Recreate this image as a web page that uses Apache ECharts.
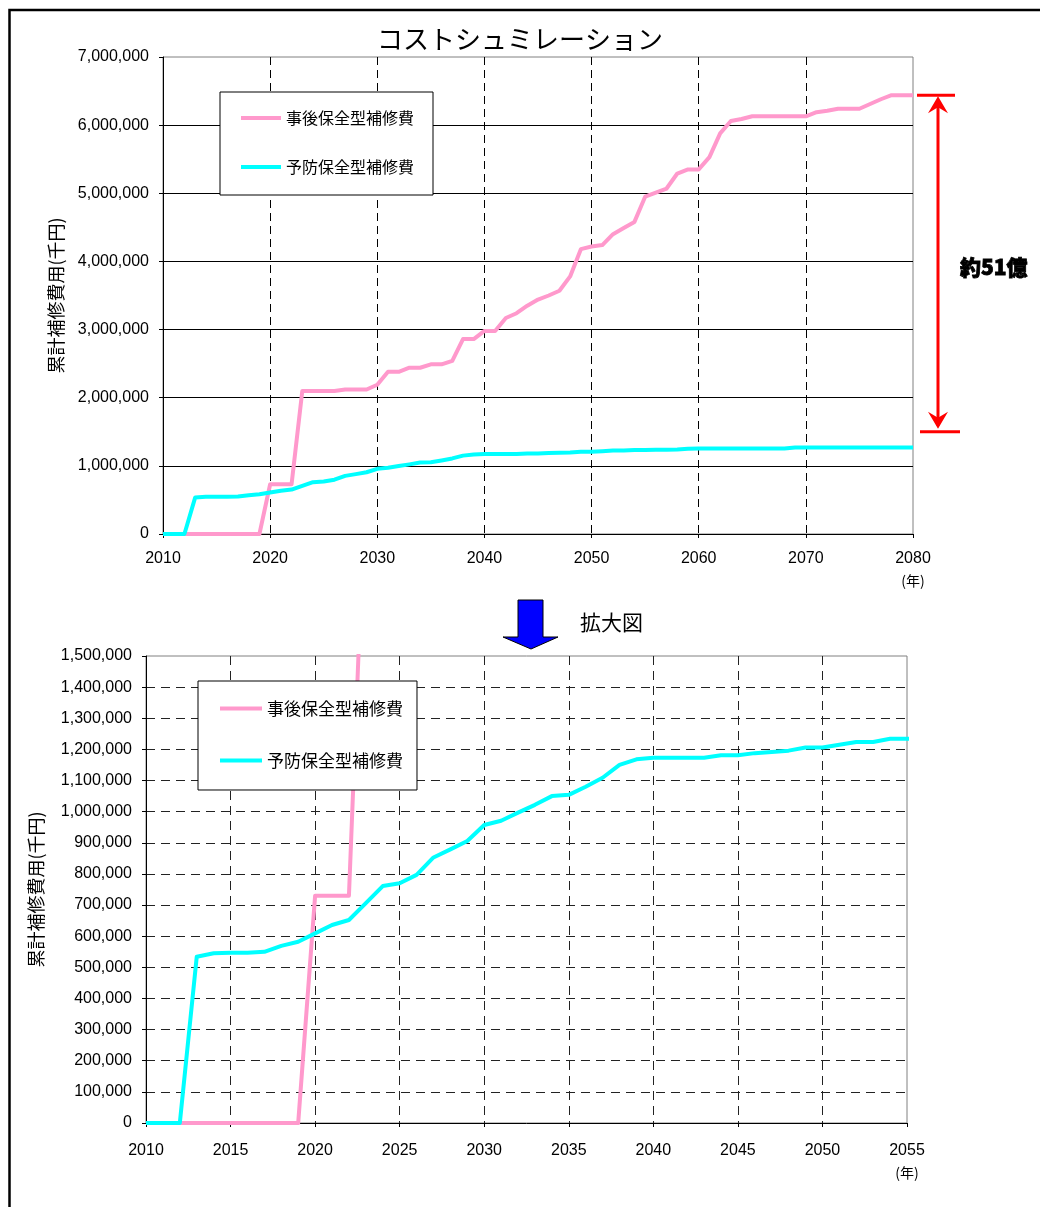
<!DOCTYPE html>
<html>
<head>
<meta charset="utf-8">
<script src="https://cdn.jsdelivr.net/npm/echarts@6/dist/echarts.min.js"></script>
<style>
  html, body { margin: 0; padding: 0; background: #fff; }
  #chart { width: 1040px; height: 1207px; }
</style>
</head>
<body>
<div id="chart"></div>
<script>
// 年度
const years = [
  2010, 2011, 2012, 2013, 2014, 2015, 2016, 2017, 2018, 2019,
  2020, 2021, 2022, 2023, 2024, 2025, 2026, 2027, 2028, 2029,
  2030, 2031, 2032, 2033, 2034, 2035, 2036, 2037, 2038, 2039,
  2040, 2041, 2042, 2043, 2044, 2045, 2046, 2047, 2048, 2049,
  2050, 2051, 2052, 2053, 2054, 2055, 2056, 2057, 2058, 2059,
  2060, 2061, 2062, 2063, 2064, 2065, 2066, 2067, 2068, 2069,
  2070, 2071, 2072, 2073, 2074, 2075, 2076, 2077, 2078, 2079,
  2080
];

// 事後保全型補修費 累計（千円）
const correctiveCost = [
  0, 0, 0, 0, 0, 0, 0, 0, 0, 0,
  730000, 730000, 730000, 2100000, 2100000, 2100000, 2100000, 2120000, 2120000, 2120000,
  2190000, 2380000, 2380000, 2440000, 2440000, 2490000, 2490000, 2540000, 2860000, 2860000,
  2980000, 2980000, 3170000, 3240000, 3350000, 3440000, 3500000, 3570000, 3780000, 4180000,
  4220000, 4240000, 4400000, 4490000, 4580000, 4950000, 5010000, 5070000, 5290000, 5350000,
  5350000, 5530000, 5880000, 6060000, 6090000, 6130000, 6130000, 6130000, 6130000, 6130000,
  6130000, 6190000, 6210000, 6240000, 6240000, 6240000, 6310000, 6380000, 6440000, 6440000,
  6440000
];

// 予防保全型補修費 累計（千円）
const preventiveCost = [
  0, 0, 0, 534000, 545000, 547000, 547000, 550000, 569000, 582000,
  609000, 636000, 652000, 706000, 761000, 770000, 797000, 853000, 879000, 906000,
  957000, 971000, 997000, 1022000, 1050000, 1054000, 1080000, 1109000, 1150000, 1168000,
  1173000, 1173000, 1173000, 1173000, 1181000, 1181000, 1188000, 1192000, 1196000, 1206000,
  1206000, 1215000, 1224000, 1224000, 1234000, 1234000, 1236000, 1238000, 1240000, 1250000,
  1255000, 1255000, 1255000, 1255000, 1255000, 1255000, 1255000, 1255000, 1255000, 1270000,
  1270000, 1270000, 1270000, 1270000, 1270000, 1270000, 1270000, 1270000, 1270000, 1270000,
  1270000
];

const seriesNames = ['事後保全型補修費', '予防保全型補修費'];
const seriesColors = ['#FF99CC', '#00FFFF'];

// 軸の範囲（全体図・拡大図）
const overviewX = { min: 2010, max: 2080, interval: 10 };
const overviewY = { min: 0, max: 7000000, interval: 1000000 };
const zoomX = { min: 2010, max: 2055, interval: 5 };
const zoomY = { min: 0, max: 1500000, interval: 100000 };

// 差額を示す矢印の範囲（千円）
const gapRange = [1500000, 6440000];

const titleText = 'コストシュミレーション';
const yAxisName = '累計補修費用(千円)';
const yearUnit = '(年)';
const zoomCaption = '拡大図';
const gapLabel = '約51億';

const NUM_FONT = "'Liberation Sans', 'Noto Sans CJK JP', sans-serif";
const JP_FONT = "'Noto Sans CJK JP', 'Noto Sans', sans-serif";

const pairs = (vals) => years.map((y, i) => [y, vals[i]]);
const fmtNum = (v) => Number(v).toLocaleString('en-US');

function xAxisFor(gridIndex, range, dashed, margin) {
  return {
    type: 'value', gridIndex,
    min: range.min, max: range.max, interval: range.interval,
    axisLine: { show: true, onZero: false, lineStyle: { color: '#000', width: 1 } },
    axisTick: { show: true, length: 4, lineStyle: { color: '#000' } },
    axisLabel: {
      margin, color: '#000', fontFamily: NUM_FONT, fontSize: 16, lineHeight: 22,
      formatter: (v) => v === range.max ? v + '\n{u|' + yearUnit + '}' : String(v),
      rich: { u: { fontFamily: JP_FONT, fontSize: 14, lineHeight: 22, color: '#000' } }
    },
    splitLine: {
      show: true, showMinLine: false, showMaxLine: false,
      lineStyle: { color: dashed.color, width: 1, type: dashed.dash }
    }
  };
}

function yAxisFor(gridIndex, range, split, nameGap) {
  return {
    type: 'value', gridIndex,
    min: range.min, max: range.max, interval: range.interval,
    name: yAxisName, nameLocation: 'middle', nameGap,
    nameTextStyle: { fontFamily: JP_FONT, fontSize: 18, color: '#000' },
    axisLine: { show: true, lineStyle: { color: '#000', width: 1 } },
    axisTick: { show: true, length: 4, lineStyle: { color: '#000' } },
    axisLabel: { margin: 14, color: '#000', fontFamily: NUM_FONT, fontSize: 16, formatter: fmtNum },
    splitLine: {
      show: true, showMinLine: false, showMaxLine: false,
      lineStyle: { color: split.color, width: 1, type: split.dash }
    }
  };
}

function lineSeries(name, color, vals, gridIdx) {
  return {
    type: 'line', name,
    xAxisIndex: gridIdx, yAxisIndex: gridIdx,
    data: pairs(vals),
    symbol: 'none', smooth: false, clip: true,
    lineStyle: { color, width: 4, join: 'round' },
    itemStyle: { color },
    z: 3
  };
}

function legendFor(left, top, padding, fontSize, itemGap, itemWidth) {
  return {
    orient: 'vertical', left, top, padding, itemGap,
    itemWidth, itemHeight: 4, icon: 'rect',
    data: seriesNames,
    backgroundColor: '#fff', borderColor: '#000', borderWidth: 1,
    textStyle: { fontFamily: JP_FONT, fontSize, color: '#000' },
    selectedMode: false
  };
}

const chart = echarts.init(document.getElementById('chart'), null, { renderer: 'canvas' });

chart.setOption({
  backgroundColor: '#fff',
  animation: false,
  grid: [
    { left: 163, top: 57, width: 750, height: 477, show: true, borderColor: '#808080', borderWidth: 1, backgroundColor: '#fff', containLabel: false },
    { left: 146, top: 656, width: 761, height: 467, show: true, borderColor: '#808080', borderWidth: 1, backgroundColor: '#fff', containLabel: false }
  ],
  xAxis: [
    xAxisFor(0, overviewX, { color: '#000', dash: [8, 5] }, 14),
    xAxisFor(1, zoomX, { color: '#222', dash: [9, 6] }, 17)
  ],
  yAxis: [
    yAxisFor(0, overviewY, { color: '#000', dash: 'solid' }, 98),
    yAxisFor(1, zoomY, { color: '#222', dash: [9, 6] }, 101)
  ],
  legend: [
    legendFor(220, 92, [18, 19, 20, 21], 16, 33, 40),
    legendFor(198, 681, [19, 14, 21, 22], 17, 35, 42)
  ],
  series: [
    lineSeries(seriesNames[0], seriesColors[0], correctiveCost, 0),
    lineSeries(seriesNames[1], seriesColors[1], preventiveCost, 0),
    lineSeries(seriesNames[0], seriesColors[0], correctiveCost, 1),
    lineSeries(seriesNames[1], seriesColors[1], preventiveCost, 1)
  ]
});

// 注記（タイトル・差額矢印・拡大図の矢印・外枠）
const gridRight = 163 + 750;
const yTop = chart.convertToPixel({ gridIndex: 0 }, [overviewX.max, gapRange[1]])[1];
const yBot = chart.convertToPixel({ gridIndex: 0 }, [overviewX.max, gapRange[0]])[1];
const ax = gridRight + 25;
const red = '#FF0000';

chart.setOption({
  graphic: [
    { type: 'rect', silent: true, shape: { x: 9.5, y: 10, width: 1200, height: 1400 },
      style: { fill: 'none', stroke: '#000', lineWidth: 2.5 }, z: 100 },
    { type: 'text', left: 'center', top: 26, silent: true,
      style: { text: titleText, fontFamily: JP_FONT, fontSize: 26, fill: '#000' }, z: 100 },
    // 差額矢印
    { type: 'line', silent: true, shape: { x1: gridRight + 4, y1: yTop, x2: gridRight + 42, y2: yTop },
      style: { stroke: red, lineWidth: 3 }, z: 100 },
    { type: 'line', silent: true, shape: { x1: gridRight + 7, y1: yBot, x2: gridRight + 47, y2: yBot },
      style: { stroke: red, lineWidth: 3 }, z: 100 },
    { type: 'line', silent: true, shape: { x1: ax, y1: yTop + 6, x2: ax, y2: yBot - 6 },
      style: { stroke: red, lineWidth: 3 }, z: 100 },
    { type: 'polygon', silent: true,
      shape: { points: [[ax, yTop + 1], [ax - 10, yTop + 18], [ax, yTop + 12], [ax + 10, yTop + 18]] },
      style: { fill: red }, z: 100 },
    { type: 'polygon', silent: true,
      shape: { points: [[ax, yBot - 3], [ax - 10, yBot - 20], [ax, yBot - 14], [ax + 10, yBot - 20]] },
      style: { fill: red }, z: 100 },
    { type: 'text', silent: true, x: gridRight + 47, y: (yTop + yBot) / 2 + 4,
      style: { text: gapLabel, fontFamily: JP_FONT, fontSize: 21, fontWeight: 900, fill: '#000',
               stroke: '#000', lineWidth: 0.8, verticalAlign: 'middle', align: 'left' }, z: 100 },
    // 拡大図への矢印
    { type: 'polygon', silent: true,
      shape: { points: [[518, 600], [543, 600], [543, 637], [558, 637], [531, 649], [503, 637], [518, 637]] },
      style: { fill: '#0000FF', stroke: '#000', lineWidth: 1 }, z: 100 },
    { type: 'text', silent: true, x: 580, y: 622,
      style: { text: zoomCaption, fontFamily: JP_FONT, fontSize: 21, fill: '#000', verticalAlign: 'middle' }, z: 100 }
  ]
});
</script>
</body>
</html>
